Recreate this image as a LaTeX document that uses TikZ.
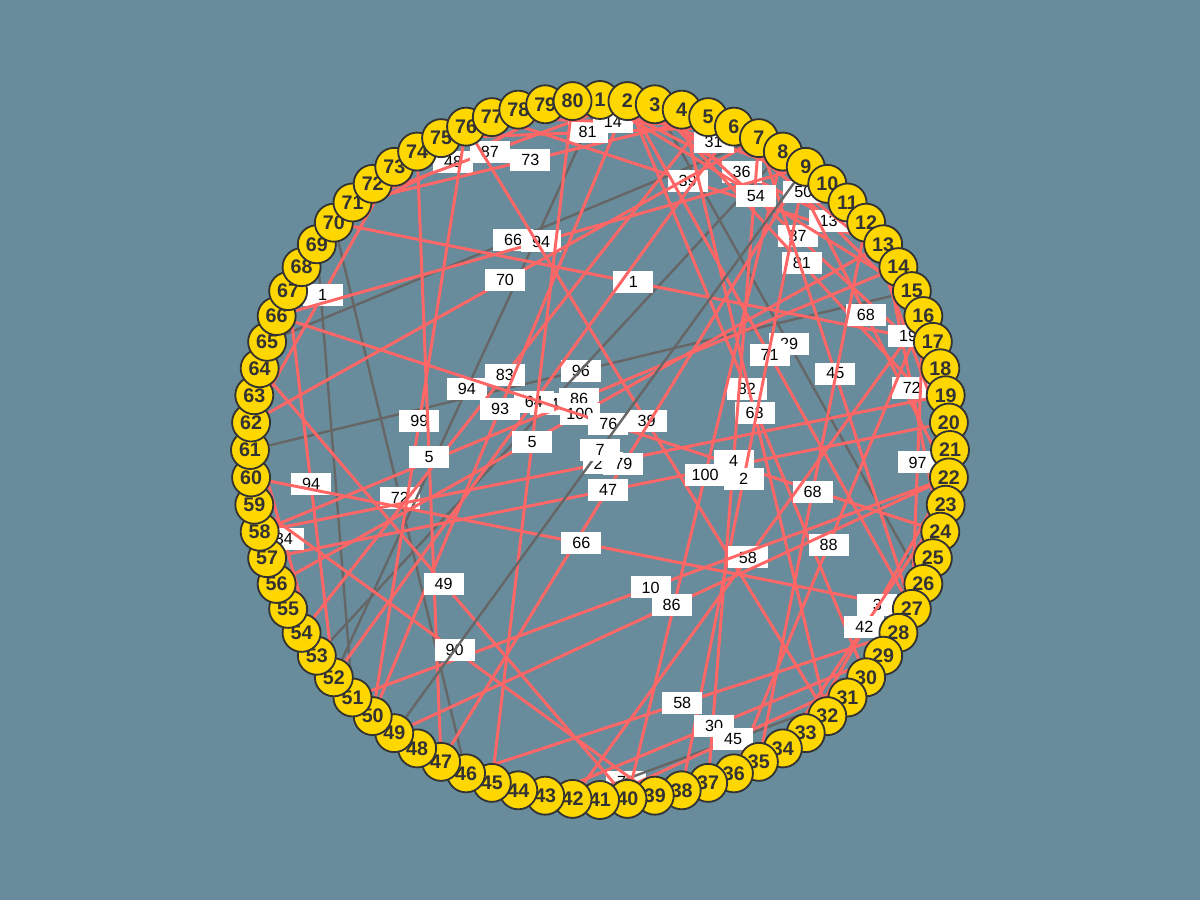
\documentclass[tikz,border=0pt]{standalone}
\usepackage{fontspec}
\setmainfont{Liberation Sans}
\usepackage{tikz}
\usetikzlibrary{calc}
\definecolor{bgslate}{HTML}{688C9C}
\definecolor{edgered}{HTML}{FF6666}
\definecolor{edgegray}{HTML}{666666}
\definecolor{vgold}{HTML}{FFD700}
\definecolor{vrim}{HTML}{333333}
\pgfdeclarelayer{bg}
\pgfdeclarelayer{edges}
\pgfsetlayers{bg,edges,main}
\tikzset{V/.style={circle,fill=vgold,draw=vrim,line width=1.3pt,minimum size=0.95cm,inner sep=0pt,text=vrim,font=\fontsize{14}{14}\selectfont\bfseries}}
\tikzset{
redge/.style={edgered,line width=2.1pt},
gedge/.style={edgegray,line width=1.7pt},
lbl/.style={fill=white,text=black,inner sep=1pt,minimum width=1cm,minimum height=0.55cm,font=\fontsize{11.5}{12}\selectfont}
}

\begin{document}
\begin{tikzpicture}

\begin{pgfonlayer}{bg}
\fill[bgslate] (-15,-11.25) rectangle (15,11.25);
\end{pgfonlayer}

% the ring of vertices
\foreach \i in {1,...,80}
  {
 \pgfmathsetmacro{\ang}{90-(\i-1)*4.5}
 \node[V] (n\i) at (\ang:8.75) {\i};
 }

\begin{pgfonlayer}{edges}
% grey links
\foreach \a/\b/\t in {65/7/66, 61/15/96, 70/46/72, 1/52/94, 3/26/29, 8/53/84, 44/36/78}
  \draw[gedge] (n\a) -- node[lbl] {\t} (n\b);
\draw[gedge] (n31) -- (n42);
\draw[gedge] (n51) -- (n69);
% red links
\foreach \a/\b/\t in {70/17/1, 62/73/1, 70/80/48, 71/2/87, 71/5/73, 75/6/81, 77/13/39,
  1/13/36, 3/18/37, 6/16/13, 3/20/81, 66/9/94, 62/7/70, 8/22/68, 2/27/71, 7/27/45,
  13/24/72, 2/30/82, 4/32/63, 54/5/83, 58/14/86, 52/6/64, 50/2/93, 56/13/100,
  66/24/76, 76/32/39, 50/76/99, 47/74/5, 45/80/5, 19/58/24, 9/47/79, 20/57/47,
  7/37/4, 9/38/2, 8/40/100, 12/35/68, 16/27/97, 52/67/94, 53/62/34, 60/27/66,
  16/42/58, 16/36/88, 40/64/49, 22/51/10, 22/49/86, 22/33/3, 23/34/42, 39/59/90,
  28/46/58, 29/43/30, 30/41/45, 1/10/31, 77/6/14, 5/14/50, 1/15/54, 12/21/19}
  \draw[redge] (n\a) -- node[lbl] {\t} (n\b);
% centre link on top
\draw[gedge] (n9) -- node[lbl] {7} (n49);
\end{pgfonlayer}

\end{tikzpicture}
\end{document}
